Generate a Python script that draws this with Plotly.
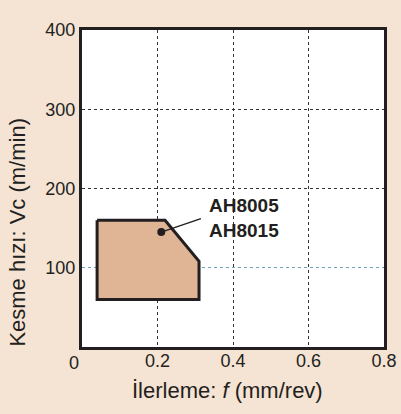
import plotly.graph_objects as go

# Data
region_f = [0.04, 0.22, 0.31, 0.31, 0.04, 0.04]      # feed (mm/rev)
region_vc = [160, 160, 108, 60, 60, 160]              # cutting speed (m/min)
grades = ["AH8005", "AH8015"]
marker_f = [0.21]
marker_vc = [145]
leader_f = [0.21, 0.315]
leader_vc = [145, 162]
label_f = 0.33
label_vc = 163
x_ticks = [0.2, 0.4, 0.6, 0.8]
y_ticks = [100, 200, 300, 400]
y_grid_dark = [200, 300]
y_grid_blue = [100]

ink = "#231F20"
bg = "#F5E3D3"
grid_dark = "#333333"
grid_blue = "#6FA3BF"

fig = go.Figure()
fig.add_trace(go.Scatter(x=region_f, y=region_vc, mode="lines", fill="toself",
                         fillcolor="#E0B596", line=dict(color=ink, width=3),
                         hoverinfo="skip", showlegend=False))
fig.add_trace(go.Scatter(x=leader_f, y=leader_vc, mode="lines",
                         line=dict(color=ink, width=1.5), showlegend=False))
fig.add_trace(go.Scatter(x=marker_f, y=marker_vc, mode="markers",
                         marker=dict(color=ink, size=8), showlegend=False))

fig.add_annotation(x=label_f, y=label_vc, text="<br>".join("<b>%s</b>" % g for g in grades),
                   showarrow=False, xanchor="left", yanchor="middle", align="left",
                   font=dict(size=19, color=ink), xref="x", yref="y")
fig.add_annotation(text="0", x=-0.028, y=-0.012, xref="paper", yref="paper",
                   xanchor="center", yanchor="top", showarrow=False,
                   font=dict(size=18, color=ink))
fig.add_annotation(text="İlerleme: <i>f</i> (mm/rev)", x=0.483, y=-0.137,
                   xref="paper", yref="paper", showarrow=False,
                   xanchor="center", yanchor="middle",
                   font=dict(size=22, color=ink))
fig.add_annotation(text="Kesme hızı: Vc (m/min)", x=-0.214, y=0.362,
                   xref="paper", yref="paper", showarrow=False, textangle=-90,
                   xanchor="center", yanchor="middle",
                   font=dict(size=22, color=ink))

line_common = dict(showline=True, linecolor=ink, linewidth=3, mirror=True, automargin=False,
                   zeroline=False, ticks="", tickfont=dict(size=18, color=ink))
fig.update_xaxes(range=[0, 0.8], tickvals=x_ticks, ticktext=[str(v) for v in x_ticks],
                 showgrid=True, gridcolor=grid_dark, griddash="dot", gridwidth=1,
                 ticklabelstandoff=-5, **line_common)
fig.update_layout(
    yaxis=dict(range=[0, 400], tickvals=y_ticks, ticktext=[str(v) for v in y_ticks],
               showgrid=False, **line_common),
    yaxis2=dict(range=[0, 400], overlaying="y", tickvals=y_grid_dark, showticklabels=False,
                showgrid=True, gridcolor=grid_dark, griddash="dot", gridwidth=1,
                zeroline=False, showline=False, ticks="", automargin=False),
    yaxis3=dict(range=[0, 400], overlaying="y", tickvals=y_grid_blue, showticklabels=False,
                showgrid=True, gridcolor=grid_blue, griddash="dot", gridwidth=1,
                zeroline=False, showline=False, ticks="", automargin=False),
)
# invisible traces to activate the grid overlay axes
fig.add_trace(go.Scatter(x=[None], y=[None], yaxis="y2", showlegend=False))
fig.add_trace(go.Scatter(x=[None], y=[None], yaxis="y3", showlegend=False))

fig.update_layout(width=401, height=414, paper_bgcolor=bg, plot_bgcolor="white",
                  margin=dict(l=82, r=17, t=30, b=67),
                  font=dict(family="Liberation Sans, Arial, sans-serif", color=ink),
                  showlegend=False)
fig.write_html("out.html", config={"displayModeBar": False},
               post_script="document.body.style.margin='0';")
